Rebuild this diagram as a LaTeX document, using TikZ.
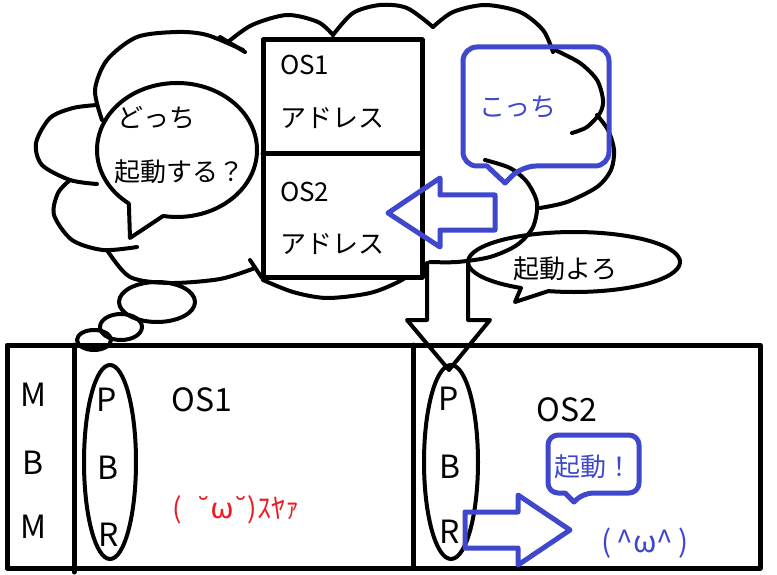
\documentclass[tikz,border=0pt]{standalone}
\usepackage{fontspec}
\setmainfont{Noto Sans CJK JP}
\newfontfamily\brevefont{DejaVu Sans}
\definecolor{paintblue}{HTML}{3F48CC}
\definecolor{paintred}{HTML}{ED1C24}
\begin{document}
\begin{tikzpicture}[x=1pt,y=-1pt,line width=4pt,line join=round,line cap=round,
	jp/.style={inner sep=0pt,font=\fontsize{26}{30}\selectfont},
	big/.style={inner sep=0pt,font=\fontsize{32}{36}\selectfont},
	bluebox/.style={draw=paintblue,line width=5pt}]
	\useasboundingbox (0,0) rectangle (777,575);
	% cloud
	\draw (220,37)--(245,52);
	\draw plot[smooth] coordinates {(228,42) (252,25) (287,15) (318,22) (333,35)};
	\draw plot[smooth] coordinates {(243,50) (207,35) (177,32) (137,37) (107,60) (95,90) (102,120)};
	\draw plot[smooth] coordinates {(333,35) (353,13) (380,5) (407,8) (433,27)};
	\draw plot[smooth] coordinates {(433,27) (453,12) (485,5) (520,12) (543,30) (553,52)};
	\draw plot[smooth] coordinates {(555,50) (580,63) (597,80) (603,100) (600,113) (587,127) (572,133)};
	\draw plot[smooth] coordinates {(597,115) (608,130) (614,150) (611,170) (597,187) (567,202) (540,208)};
	\draw plot[smooth] coordinates {(485,160) (510,168) (527,182) (537,203) (533,227) (517,245) (490,257) (457,262) (430,262)};
	\draw plot[smooth] coordinates {(422,266) (400,281) (370,293) (327,298) (293,292) (263,280)};
	\draw (250,260)--(262,278);
	\draw plot[smooth] coordinates {(255,268) (220,279) (170,283) (130,277) (107,250)};
	\draw plot[smooth] coordinates {(137,247) (103,250) (72,240) (54,215) (58,193) (70,180)};
	\draw plot[smooth] coordinates {(97,105) (73,108) (50,118) (36,143) (42,165) (70,180) (97,184)};
	\draw (157,302) ellipse [x radius=38,y radius=20];
	\draw (121,327) ellipse [x radius=21,y radius=13];
	\draw (94,340) ellipse [x radius=17,y radius=10];
	% address table
	\draw[fill=white,line width=5pt] (263,40) rectangle (422,277);
	\draw[line width=5pt] (263,154)--(422,154);
	\node[jp,anchor=west] (os1) at (278,65) {OS1};
	\node[jp,anchor=west] (addr1) at (278,118) {アドレス};
	\node[jp,anchor=west] (os2) at (278,192) {OS2};
	\node[jp,anchor=west] (addr2) at (278,244) {アドレス};
	% bubbles
	\draw[fill=white] (177,150) ++(127:80 and 67) arc[start angle=127,end angle=460,x radius=80,y radius=67] -- (130,238) -- cycle;
	\node[jp,anchor=west] (docchi) at (115,118) {どっち};
	\node[jp,anchor=west] (kidousuru) at (112,172) {起動する？};
	\draw (574,262) ++(120:106 and 30) arc[start angle=120,end angle=464,x radius=106,y radius=30] -- (515,302) -- cycle;
	\node[jp] (yoro) at (565,269) {起動よろ};
	\draw[bluebox,rounded corners=14pt] (487,166) -- (463,166) -- (463,47) -- (609,47) -- (609,166) -- (522,166) [sharp corners] -- (505,183) -- cycle;
	\node[jp,text=paintblue] (kocchi) at (518,107) {こっち};
	\draw[bluebox] (388,213) -- (440,178) -- (440,195) -- (495,195) -- (495,230) -- (440,230) -- (440,247) -- cycle;
	\draw (427,263) -- (427,320) -- (407,320) -- (449,370) -- (490,320) -- (468,320) -- (468,263);
	% disk
	\draw[line width=5pt] (7,345) rectangle (760,568);
	\draw[line width=5pt] (74,345) -- (74,572);
	\draw[line width=5pt] (413,345) -- (413,568);
	\draw (110,462) ellipse [x radius=26,y radius=97];
	\draw (451,462) ellipse [x radius=27,y radius=97];
	\node[big] (m1) at (33,395) {M};
	\node[big] (b1) at (33,463) {B};
	\node[big] (m2) at (33,527) {M};
	\node[big] (p1) at (107,400) {P};
	\node[big] (b2) at (108,468) {B};
	\node[big] (r1) at (109,535) {R};
	\node[big] (p2) at (449,399) {P};
	\node[big] (b3) at (450,467) {B};
	\node[big] (r2) at (450,532) {R};
	\node[big] (disk1) at (202,400) {OS1};
	\node[big] (disk2) at (567,410) {OS2};
	\node[jp,text=paintred,font=\fontsize{28}{32}\selectfont] (suya) at (236,510) {(\hspace{0.5em}{\brevefont ˘}{\brevefont ω}{\brevefont ˘})ｽﾔｧ};
	\draw[bluebox,rounded corners=10pt] (565,493) -- (548,493) -- (548,435) -- (639,435) -- (639,493) -- (583,493) [sharp corners] -- (574,502) -- cycle;
	\node[jp,text=paintblue] (kidou) at (593,467) {起動！};
	\draw[bluebox] (465,512) -- (518,512) -- (518,495) -- (570,530) -- (518,565) -- (518,548) -- (465,548) -- cycle;
	\node[jp,text=paintblue,font=\fontsize{30}{34}\selectfont] (face) at (645,543) {(\,\^{}ω\^{}\,)};
\end{tikzpicture}
\end{document}
